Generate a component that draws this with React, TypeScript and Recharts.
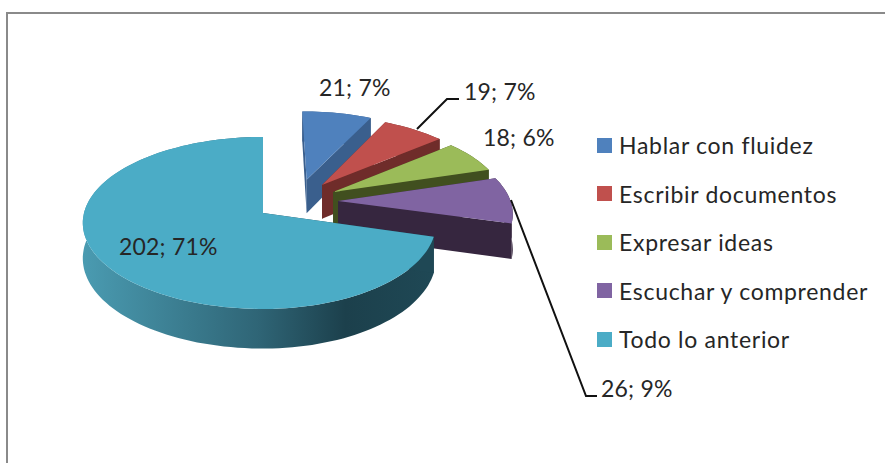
import { Legend, Pie, PieChart } from "recharts";

const CATEGORIES = [
  "Hablar con fluidez",
  "Escribir documentos",
  "Expresar ideas",
  "Escuchar y comprender",
  "Todo lo anterior",
];
const VALUES = [21, 19, 18, 26, 202];
const TOTAL = VALUES.reduce((a, b) => a + b, 0);

const TOP_COLORS = ["#4f81bd", "#c0504d", "#9bbb59", "#8064a2", "#4bacc6"];
const WALL_COLORS = ["#3a5f8d", "#6f2c2a", "#414f1f", "#36263f", "url(#rimTeal)"];

// how far each slice is pulled out of the pie, as a share of the radius (right, back)
const EXPLODE = [
  [0.255, 0.41],
  [0.343, 0.343],
  [0.403, 0.255],
  [0.426, 0.144],
  [0, 0],
];
// pulled slices come out a bit smaller, the big one is narrower on its right side
const SLICE_RADIUS = [0.98, 0.98, 0.98, 0.98, 1];
const RIGHT_SQUEEZE = [1, 1, 1, 1, 0.96];

const CX = 263;
const CY = 213;
const RADIUS = 179;
const TILT = 0.474;
const PERSPECTIVE = 0.116;
const THICKNESS = 35;

const LABEL_POS = [
  [319, 96],
  [464, 100],
  [483, 146],
  [601, 397],
  [119, 255],
];
const LEADERS: Record<number, string> = {
  1: "417,129 447,99 459,99",
  3: "511,200 586,396 597,396",
};

const FONT = "Lato, 'Open Sans', sans-serif";
const TEXT_COLOR = "#262626";

const data = CATEGORIES.map((name, i) => ({
  name,
  value: VALUES[i],
  fill: TOP_COLORS[i],
}));

function project(i: number, angle: number, r: number, drop: number) {
  const rad = (angle * Math.PI) / 180;
  const dx = r * SLICE_RADIUS[i] * Math.cos(rad);
  const x = EXPLODE[i][0] + (dx > 0 ? dx * RIGHT_SQUEEZE[i] : dx);
  const y = EXPLODE[i][1] + r * SLICE_RADIUS[i] * Math.sin(rad);
  const scale = 1 / (1 + PERSPECTIVE * y);
  return [CX + RADIUS * x * scale, CY - RADIUS * TILT * y * scale + drop * scale];
}

function toPath(points: number[][]) {
  return (
    points.map((p, n) => `${n ? "L" : "M"}${p[0].toFixed(1)} ${p[1].toFixed(1)}`).join(" ") + " Z"
  );
}

function Slice3D(props: any) {
  const i = CATEGORIES.indexOf(props.name ?? props.payload?.name);
  const { startAngle, endAngle } = props;
  const steps = Math.ceil(Math.abs(endAngle - startAngle) / 2);
  const angles = Array.from(
    { length: steps + 1 },
    (_, n) => startAngle + ((endAngle - startAngle) * n) / steps,
  );
  const rim = angles.map((a) => project(i, a, 1, 0));
  const rimLow = angles.map((a) => project(i, a, 1, THICKNESS));
  const apex = project(i, 0, 0, 0);
  const apexLow = project(i, 0, 0, THICKNESS);
  const wall = WALL_COLORS[i];
  const sideColor = i === 4 ? "#1f4855" : wall;
  return (
    <g>
      <path d={toPath([...rim, ...[...rimLow].reverse()])} fill={wall} />
      <path d={toPath([apex, rim[0], rimLow[0], apexLow])} fill={sideColor} />
      <path
        d={toPath([apex, rim[rim.length - 1], rimLow[rimLow.length - 1], apexLow])}
        fill={sideColor}
      />
      <path d={toPath([apex, ...rim])} fill={TOP_COLORS[i]} />
    </g>
  );
}

function SliceLabel(props: any) {
  const i = props.index;
  const pct = Math.round((VALUES[i] / TOTAL) * 100);
  return (
    <g>
      {LEADERS[i] && (
        <polyline points={LEADERS[i]} fill="none" stroke="#111" strokeWidth={2} />
      )}
      <text
        x={LABEL_POS[i][0]}
        y={LABEL_POS[i][1]}
        fontFamily={FONT}
        fontSize={23}
        letterSpacing={0.2}
        fill={TEXT_COLOR}
      >
        {`${VALUES[i]}; ${pct}%`}
      </text>
    </g>
  );
}

function LegendList() {
  return (
    <div style={{ fontFamily: FONT, fontSize: 23, letterSpacing: 0.7, color: TEXT_COLOR }}>
      {CATEGORIES.map((name, i) => (
        <div key={name} style={{ display: "flex", alignItems: "center", height: 48.5 }}>
          <span
            style={{ width: 15, height: 15, marginRight: 7, background: TOP_COLORS[i] }}
          />
          {name}
        </div>
      ))}
    </div>
  );
}

export default function App() {
  return (
    <div
      style={{
        position: "absolute",
        left: 0,
        top: 0,
        width: 885,
        height: 463,
        background: "#fff",
        overflow: "hidden",
      }}
    >
      <div
        style={{
          position: "absolute",
          left: 6,
          top: 12,
          right: 0,
          bottom: 0,
          borderTop: "2px solid #8a8a8a",
          borderLeft: "2px solid #8a8a8a",
        }}
      />
      <PieChart width={885} height={463} margin={{ top: 0, right: 0, bottom: 0, left: 0 }}>
        <defs>
          <linearGradient id="rimTeal" gradientUnits="userSpaceOnUse" x1={83} y1={0} x2={433} y2={0}>
            <stop offset="0%" stopColor="#4a9bb1" />
            <stop offset="50%" stopColor="#2f6576" />
            <stop offset="75%" stopColor="#1c404c" />
            <stop offset="100%" stopColor="#1f4855" />
          </linearGradient>
        </defs>
        <Pie
          data={data}
          dataKey="value"
          nameKey="name"
          cx={CX}
          cy={CY}
          outerRadius={RADIUS}
          startAngle={90}
          endAngle={-270}
          stroke="none"
          shape={Slice3D}
          label={SliceLabel}
          labelLine={false}
          isAnimationActive={false}
        />
        <Legend
          content={LegendList}
          wrapperStyle={{ left: 597, top: 121, bottom: "auto", width: 288 }}
        />
      </PieChart>
    </div>
  );
}
